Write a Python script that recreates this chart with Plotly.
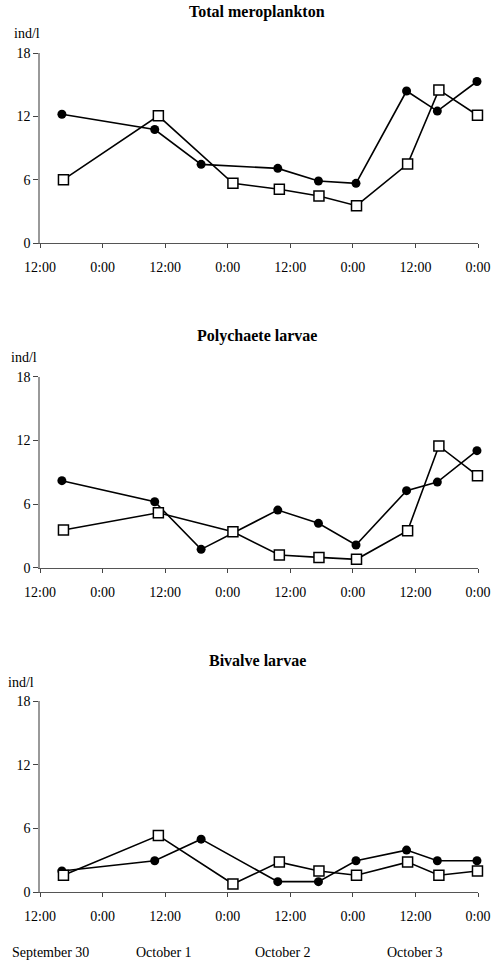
import plotly.graph_objects as go

# hours since 12:00 September 30
hours_circle = [4.2, 22.0, 30.9, 45.6, 53.4, 60.6, 70.3, 76.2, 83.8]
hours_square = [4.5, 22.7, 37.0, 45.9, 53.5, 60.7, 70.5, 76.5, 83.9]

total_circle = [12.2, 10.75, 7.45, 7.07, 5.87, 5.65, 14.4, 12.5, 15.3]
total_square = [6.0, 12.05, 5.65, 5.1, 4.45, 3.53, 7.48, 14.5, 12.1]

poly_circle = [8.2, 6.22, 1.73, 5.43, 4.18, 2.14, 7.26, 8.07, 11.03]
poly_square = [3.55, 5.18, 3.39, 1.19, 0.97, 0.79, 3.49, 11.47, 8.67]

biv_circle = [2.0, 2.97, 5.0, 1.0, 1.0, 2.97, 3.97, 2.97, 2.97]
biv_square = [1.6, 5.34, 0.78, 2.84, 2.0, 1.6, 2.84, 1.6, 2.0]

panel_titles = ["Total meroplankton", "Polychaete larvae", "Bivalve larvae"]
x_tickvals = [0, 12, 24, 36, 48, 60, 72, 84]
x_ticktext = ["12:00", "0:00", "12:00", "0:00", "12:00", "0:00", "12:00", "0:00"]
y_tickvals = [0, 6, 12, 18]
date_labels = ["September 30", "October 1", "October 2", "October 3"]
date_label_pos = [50, 164, 283, 415]

W, H = 491, 962
FONT = "Liberation Serif, Times New Roman, serif"


def px_x(p):
    return p / W


def px_y(p):
    return 1 - p / H


fig = go.Figure()

panels = [
    (total_circle, total_square, 53, 243),
    (poly_circle, poly_square, 376.7, 567.7),
    (biv_circle, biv_square, 701, 892.3),
]
x0px, x1px = 40, 478

for i, (circ, sq, ytop, ybot) in enumerate(panels):
    idx = "" if i == 0 else str(i + 1)
    xa, ya = "x" + idx, "y" + idx
    fig.add_trace(go.Scatter(
        x=hours_circle, y=circ, xaxis=xa, yaxis=ya, mode="lines+markers",
        line=dict(color="black", width=1.6),
        marker=dict(symbol="circle", size=9, color="black"),
        cliponaxis=False, showlegend=False))
    fig.add_trace(go.Scatter(
        x=hours_square, y=sq, xaxis=xa, yaxis=ya, mode="lines+markers",
        line=dict(color="black", width=1.6),
        marker=dict(symbol="square", size=10, color="white",
                    line=dict(color="black", width=1.5)),
        cliponaxis=False, showlegend=False))
    fig.layout["xaxis" + idx] = dict(
        domain=[px_x(x0px), px_x(x1px)], range=[0, 84], anchor=ya, automargin=False,
        tickvals=x_tickvals, ticktext=x_ticktext, ticks="outside", ticklen=4,
        ticklabelstandoff=7,
        tickcolor="#444", showline=True, linecolor="#555", linewidth=1,
        showgrid=False, zeroline=False,
        tickfont=dict(family=FONT, size=14, color="black"))
    fig.layout["yaxis" + idx] = dict(
        domain=[px_y(ybot), px_y(ytop)], range=[0, 18], anchor=xa, automargin=False,
        tickvals=y_tickvals, ticks="outside", ticklen=5, tickcolor="#444",
        showline=True, linecolor="#999", linewidth=1.5,
        showgrid=False, zeroline=False,
        tickfont=dict(family=FONT, size=14, color="black"))
    fig.add_annotation(text="<b>" + panel_titles[i] + "</b>", xref="paper", yref="paper",
                       x=px_x(257), y=px_y(ytop - 41), showarrow=False,
                       xanchor="center", yanchor="middle",
                       font=dict(family=FONT, size=16, color="black"))
    fig.add_annotation(text="ind/l", xref="paper", yref="paper",
                       x=px_x(12 - 3 * i), y=px_y(ytop - 19), showarrow=False,
                       xanchor="left", yanchor="middle",
                       font=dict(family=FONT, size=14, color="black"))

for lab, p in zip(date_labels, date_label_pos):
    fig.add_annotation(text=lab, xref="paper", yref="paper",
                       x=px_x(p), y=px_y(952), showarrow=False,
                       xanchor="center", yanchor="middle",
                       font=dict(family=FONT, size=14, color="black"))

fig.update_layout(width=W, height=H, margin=dict(l=0, r=0, t=0, b=0),
                  plot_bgcolor="white", paper_bgcolor="white")

fig.write_html("out.html", config={"displayModeBar": False},
               post_script="document.body.style.margin='0';"
                           "document.body.style.overflow='hidden';")
